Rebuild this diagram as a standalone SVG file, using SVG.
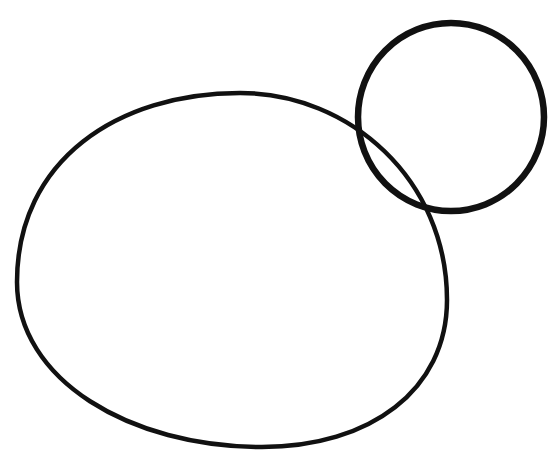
<svg xmlns="http://www.w3.org/2000/svg" width="557" height="454" viewBox="0 0 557 454">
<style>
.ln{fill:none;stroke:#111;stroke-linecap:round;stroke-linejoin:round}
</style>
<rect width="557" height="454" fill="#fff"/>
<g id="large-oval">
<path class="ln" stroke-width="4.5" d="M 17 282 C 17 160, 118 93, 240 93 C 350 93, 447 180, 447 300 C 447 390, 370 447, 262 447 C 130 447, 17 380, 17 282 Z"/>
</g>
<g id="small-circle">
<ellipse class="ln" stroke-width="6.5" cx="451" cy="117" rx="93" ry="94"/>
</g>
</svg>
